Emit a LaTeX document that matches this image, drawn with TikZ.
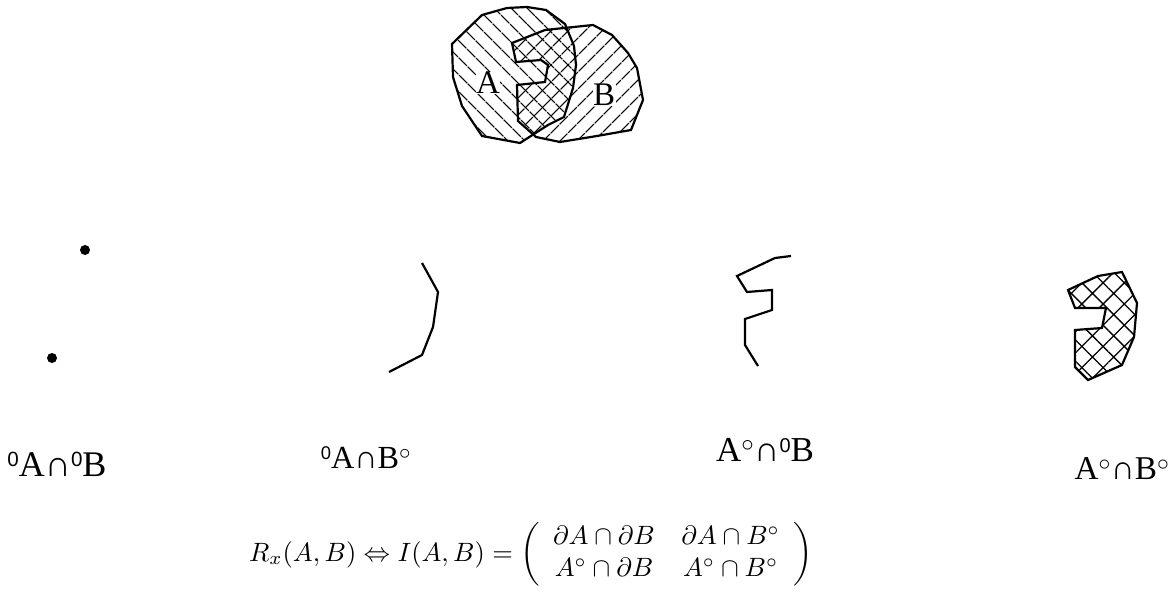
\documentclass[tikz,border=0pt]{standalone}
\usepackage{fontspec}
\usepackage{graphicx}
\usetikzlibrary{patterns.meta}
\newfontfamily\tnr{Liberation Serif}
\newfontfamily\arl{Liberation Sans}
\newcommand\zr{\raisebox{9pt}{\arl\fontsize{20}{20}\selectfont 0}}
\newcommand\dg{$^{\circ}$}
\tikzset{
  outline/.style={line width=2.2pt, line join=miter},
  hatchA/.style={pattern={Lines[angle=-45,distance=13pt,line width=1.4pt]}},
  hatchB/.style={pattern={Lines[angle=45,distance=13pt,line width=1.4pt]}},
  cross/.style={pattern={Hatch[angle=45,distance=15pt,line width=1.3pt]}},
  toplab/.style={fill=white, inner sep=0.5pt, font=\tnr\fontsize{33}{36}\selectfont},
  lab/.style={inner sep=0pt, anchor=base, font=\tnr\fontsize{35}{40}\selectfont},
  dot/.style={fill=black}
}
\begin{document}
\begin{tikzpicture}[x=1pt,y=-1pt]
\useasboundingbox (0,0) rectangle (1169,601);
% region A
\path[hatchA] (452,44) -- (482,15) -- (507,8) -- (527,7) -- (546,10) -- (565,24) -- (574,46) -- (576,65) -- (573,88) -- (564,117) -- (548,125) -- (520,143) -- (482,136) -- (462,106) -- (453,77) -- cycle;
% region B
\path[hatchB] (512,43) -- (545,30) -- (593,25) -- (612,35) -- (628,53) -- (637,68) -- (643,100) -- (631,130) -- (597,136) -- (560,142) -- (536,137) -- (518,121) -- (517,85) -- (545,82) -- (548,65) -- (541,60) -- (516,62) -- cycle;
\node[toplab] (la) at (488,83) {A};
\node[toplab] (lb) at (604,95) {B};
\draw[outline] (452,44) -- (482,15) -- (507,8) -- (527,7) -- (546,10) -- (565,24) -- (574,46) -- (576,65) -- (573,88) -- (564,117) -- (548,125) -- (520,143) -- (482,136) -- (462,106) -- (453,77) -- cycle;
\draw[outline] (512,43) -- (545,30) -- (593,25) -- (612,35) -- (628,53) -- (637,68) -- (643,100) -- (631,130) -- (597,136) -- (560,142) -- (536,137) -- (518,121) -- (517,85) -- (545,82) -- (548,65) -- (541,60) -- (516,62) -- cycle;
% boundary-boundary: two points
\fill[dot] (85,250) circle (5);
\fill[dot] (52,358) circle (5);
% boundary A with interior B
\draw[outline] (422,263) -- (438,292) -- (433,327) -- (422,355) -- (389,372);
% interior A with boundary B
\draw[outline] (791,256) -- (775,258) -- (737,276) -- (747,292) -- (772,290) -- (772,310) -- (745,319) -- (745,345) -- (758,366);
% interior-interior
\draw[outline, cross] (1068,290) -- (1098,276) -- (1122,272) -- (1137,303) -- (1134,337) -- (1122,365) -- (1088,380) -- (1075,367) -- (1075,330) -- (1102,328) -- (1106,308) -- (1075,308) -- cycle;
% labels
\node[lab] (l1) at (57,476) {\scalebox{1.03}{\zr A∩\zr B}};
\node[lab] (l2) at (366,468) {\scalebox{0.92}{\zr A∩B\dg}};
\node[lab] (l3) at (765,461) {A\dg∩\zr B};
\node[lab] (l4) at (1122,479) {\scalebox{0.95}{A\dg∩B\dg}};
\node[inner sep=0pt, anchor=base west, font=\fontsize{10}{12}\selectfont] (f) at (249,561)
  {\scalebox{2.65}{$R_x(A,B) \Leftrightarrow I(A,B) = \left(\begin{array}{cc} \partial A\cap\partial B & \partial A\cap B^\circ \\ A^\circ\cap\partial B & A^\circ\cap B^\circ\end{array}\right)$}};
\end{tikzpicture}
\end{document}
